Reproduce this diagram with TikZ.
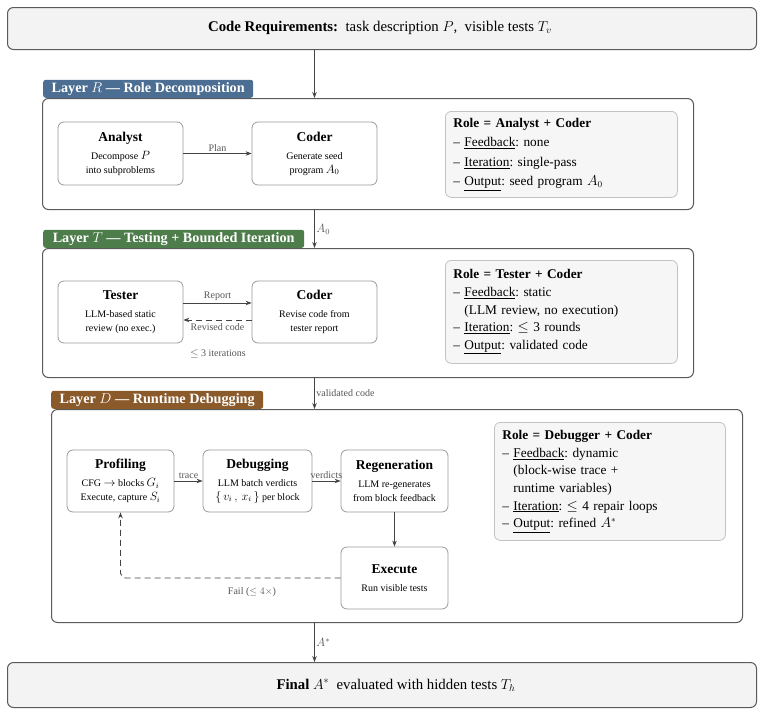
\documentclass[tikz,border=0pt]{standalone}
\usepackage{fontspec}
\setmainfont{Liberation Serif}
\usetikzlibrary{arrows.meta,calc}
\frenchspacing
\definecolor{layerR}{HTML}{4B6E92}
\definecolor{layerT}{HTML}{4D7D4A}
\definecolor{layerD}{HTML}{8B5A2A}
\definecolor{boxgray}{HTML}{F3F3F3}
\definecolor{rolefill}{HTML}{F6F6F6}
\definecolor{roleborder}{HTML}{C2C2C2}
\definecolor{framegray}{HTML}{5A5A5A}
\definecolor{nodegray}{HTML}{9A9A9A}
\definecolor{arrgray}{HTML}{444444}
\definecolor{lblgray}{HTML}{555555}
\newcommand{\mybody}{\fontsize{10}{14}\selectfont}
\newcommand{\myhead}{\fontsize{13.5}{16}\selectfont}
\newcommand{\myrole}{\fontsize{13.3}{17.6}\selectfont}
\newcommand{\mytitle}{\fontsize{14.8}{18}\selectfont}
\newcommand{\mylayer}{\fontsize{14.2}{17}\selectfont}
\newcommand{\mysmall}{\fontsize{10}{12}\selectfont}
\newcommand{\nm}[1]{{\fontsize{12}{14}\selectfont$#1$}}
\begin{document}
\begin{tikzpicture}[x=1pt,y=-1pt,
  outer/.style={draw=framegray, line width=1pt, fill=boxgray, rounded corners=6pt, inner sep=0pt},
  layer/.style={draw=framegray, line width=1pt, rounded corners=6pt, inner sep=0pt, anchor=north west},
  tag/.style={fill=#1, text=white, rounded corners=2.5pt, inner sep=0pt, minimum height=18pt, anchor=south west, font=\mylayer\bfseries},
  proc/.style={draw=nodegray, line width=0.8pt, rounded corners=6pt, fill=white, align=center, inner sep=0pt, font=\mybody},
  rolebox/.style={draw=roleborder, line width=0.8pt, fill=rolefill, rounded corners=6pt, align=left, inner xsep=8pt, inner ysep=0pt, anchor=north west, font=\myrole},
  arr/.style={draw=arrgray, line width=0.9pt, -{Stealth[length=6pt,width=4.5pt]}},
  lbl/.style={text=lblgray, font=\mysmall, inner sep=1.5pt},
]
\useasboundingbox (0,0) rectangle (772,715);

% top and bottom boxes
\node[outer, minimum width=749, minimum height=42, anchor=north west] (top) at (7,7) {};
\node[font=\mytitle] (toptext) at (380,28) {\textbf{Code Requirements:}\ \ task description $P$,\ \ visible tests $T_v$};
\node[outer, minimum width=749, minimum height=45, anchor=north west] (bottom) at (7,662) {};
\node[font=\mytitle] (bottext) at (396,685) {\textbf{Final} $A^*$\ \ evaluated with hidden tests $T_h$};

% layer frames
\node[layer, minimum width=651, minimum height=111] (LR) at (42,98) {};
\node[layer, minimum width=651, minimum height=129] (LT) at (42,248) {};
\node[layer, minimum width=691, minimum height=213] (LD) at (51,409) {};

\node[tag=layerR, minimum width=210] (tagR) at ([xshift=1pt]LR.north west) {Layer $R$ --- Role Decomposition};
\node[tag=layerT, minimum width=261] (tagT) at ([xshift=1pt]LT.north west) {Layer $T$ --- Testing + Bounded Iteration};
\node[tag=layerD, minimum width=212] (tagD) at (LD.north west) {Layer $D$ --- Runtime Debugging};

% Layer R
\node[proc, minimum width=125, minimum height=63] (analyst) at (120.5,153.5) {{\myhead\bfseries Analyst}\\[4pt]Decompose \nm{P}\\into subproblems};
\node[proc, minimum width=125, minimum height=63] (coderR) at (314.5,153.5) {{\myhead\bfseries Coder}\\[4pt]Generate seed\\program \nm{A_0}};
\draw[arr] (analyst) -- node[lbl, above] {Plan} (coderR);
\node[rolebox, text width=216, minimum height=86] (roleR) at (445,111) {\textbf{Role = Analyst + Coder}\\[1.7pt]
-- \underline{Feedback}: none\\[1.7pt]
-- \underline{Iteration}: single-pass\\[1.7pt]
-- \underline{Output}: seed program $A_0$};

% Layer T
\node[proc, minimum width=125, minimum height=62] (tester) at (120.5,312) {{\myhead\bfseries Tester}\\[4pt]LLM-based static\\review (no exec.)};
\node[proc, minimum width=125, minimum height=62] (coderT) at (314.5,312) {{\myhead\bfseries Coder}\\[4pt]Revise code from\\tester report};
\draw[arr] ([yshift=9pt]tester.east) -- node[lbl, above] {Report} ([yshift=9pt]coderT.west);
\draw[arr, dashed, dash pattern=on 6pt off 4pt] ([yshift=-8pt]coderT.west) -- node[lbl, below, inner sep=3pt] {Revised code} ([yshift=-8pt]tester.east);
\node[lbl] (iter) at (218,354) {{\fontsize{11}{12}\selectfont$\leq$} 3 iterations};
\node[rolebox, text width=216, minimum height=103] (roleT) at (445,260) {\textbf{Role = Tester + Coder}\\
-- \underline{Feedback}: static\\
\phantom{--} (LLM review, no execution)\\
-- \underline{Iteration}: $\leq$ 3 rounds\\
-- \underline{Output}: validated code};

% Layer D
\node[proc, minimum width=107, minimum height=62] (prof) at (120.5,481) {{\myhead\bfseries Profiling}\\[4pt]CFG \nm{\rightarrow} blocks \nm{G_i}\\Execute, capture \nm{S_i}};
\node[proc, minimum width=109, minimum height=62] (debug) at (257.5,481) {{\myhead\bfseries Debugging}\\[4pt]LLM batch verdicts\\\nm{\{\,v_i\,,\,x_i\,\}} per block};
\node[proc, minimum width=107, minimum height=62] (regen) at (394.5,481) {{\myhead\bfseries Regeneration}\\[4pt]LLM re-generates\\from block feedback};
\node[proc, minimum width=107, minimum height=62] (exec) at (394.5,578) {{\myhead\bfseries Execute}\\[4pt]Run visible tests};
\draw[arr] (prof) -- node[lbl, above] {trace} (debug);
\draw[arr] (debug) -- node[lbl, above] {verdicts} (regen);
\draw[arr] (regen) -- (exec);
\draw[arr, dashed, dash pattern=on 6pt off 4pt, rounded corners=5pt] (exec.west) -| (prof.south);
\node[lbl] (fail) at (252,592) {Fail ($\leq 4\times$)};
\node[rolebox, text width=215, minimum height=118] (roleD) at (494,422) {\textbf{Role = Debugger + Coder}\\
-- \underline{Feedback}: dynamic\\
\phantom{--} (block-wise trace +\\
\phantom{--} runtime variables)\\
-- \underline{Iteration}: $\leq$ 4 repair loops\\
-- \underline{Output}: refined $A^*$};

% vertical flow
\draw[arr] (coderR.north |- top.south) -- (coderR.north |- LR.north);
\draw[arr] (coderR.north |- LR.south) -- node[lbl, right, font=\fontsize{12}{12}\selectfont] {$A_0$} (coderR.north |- LT.north);
\draw[arr] (coderR.north |- LT.south) -- node[lbl, right] {validated code} (coderR.north |- LD.north);
\draw[arr] (coderR.north |- LD.south) -- node[lbl, right, font=\fontsize{12}{12}\selectfont] {$A^*$} (coderR.north |- bottom.north);
\end{tikzpicture}
\end{document}
